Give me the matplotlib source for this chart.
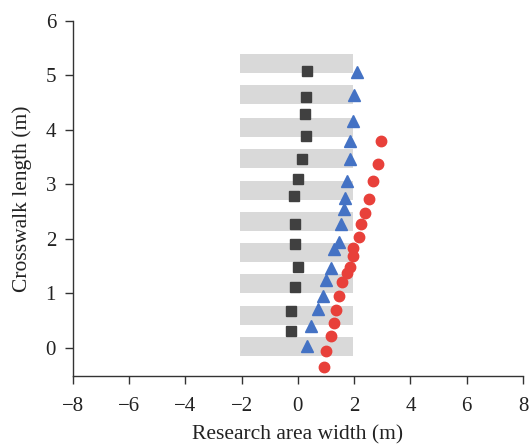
import matplotlib.pyplot as plt

# Crosswalk zebra stripes (bottom edge of each stripe, m)
stripe_bottoms = [-0.15, 0.42, 1.01, 1.58, 2.15, 2.72, 3.30, 3.87, 4.48, 5.05]
stripe_left, stripe_right, stripe_height = -2.05, 1.95, 0.35

# Trajectory points (x = research area width, y = crosswalk length)
sq_x = [0.34, 0.30, 0.27, 0.30, 0.16, 0.02, -0.12, -0.09, -0.09, -0.01, -0.09, -0.23, -0.26]
sq_y = [5.08, 4.60, 4.30, 3.88, 3.46, 3.09, 2.78, 2.27, 1.90, 1.48, 1.11, 0.67, 0.30]

tri_x = [2.10, 2.01, 1.96, 1.87, 1.85, 1.75, 1.67, 1.64, 1.54, 1.45, 1.29, 1.18, 1.01,
         0.90, 0.70, 0.47, 0.33]
tri_y = [5.07, 4.65, 4.16, 3.80, 3.46, 3.07, 2.75, 2.54, 2.27, 1.94, 1.81, 1.46, 1.24,
         0.95, 0.71, 0.40, 0.04]

circ_x = [2.96, 2.85, 2.67, 2.52, 2.40, 2.23, 2.16, 1.96, 1.96, 1.85, 1.74, 1.58, 1.46,
          1.37, 1.29, 1.16, 0.99, 0.93]
circ_y = [3.80, 3.38, 3.06, 2.74, 2.48, 2.28, 2.03, 1.84, 1.68, 1.48, 1.37, 1.21, 0.95,
          0.69, 0.45, 0.21, -0.06, -0.35]

plt.rcParams['font.family'] = ['Liberation Serif', 'DejaVu Serif']

fig = plt.figure(figsize=(5.29, 4.47), dpi=100)
ax = fig.add_axes([0.1374, 0.1588, 0.8513, 0.7942])

for b in stripe_bottoms:
    ax.barh(b, stripe_right - stripe_left, height=stripe_height, left=stripe_left,
            align='edge', color='#d9d9d9', zorder=1)

ax.plot(sq_x, sq_y, 's', color='#404040', markersize=6.5, zorder=3)
ax.plot(tri_x, tri_y, '^', color='#4472c4', markersize=8, zorder=3)
ax.plot(circ_x, circ_y, 'o', color='#e8403a', markersize=7.5, zorder=3)

ax.set_xlim(-8, 8)
ax.set_ylim(-0.52, 6)
ax.set_xticks(range(-8, 9, 2))
ax.set_yticks(range(0, 7))
ax.set_xticklabels(['\u22128', '\u22126', '\u22124', '\u22122', '0', '2', '4', '6', '8'])

for side in ['top', 'right']:
    ax.spines[side].set_visible(False)
for side in ['left', 'bottom']:
    ax.spines[side].set_color('#333333')
    ax.spines[side].set_linewidth(1.0)

ax.tick_params(direction='out', length=6, width=1.0, color='#333333', labelsize=15,
               labelcolor='#222222')
ax.tick_params(axis='x', pad=9)
ax.tick_params(axis='y', pad=6)

ax.set_xlabel('Research area width (m)', fontsize=15.5, color='#222222', labelpad=7)
ax.set_ylabel('Crosswalk length (m)', fontsize=15.5, color='#222222', labelpad=10)

fig.savefig('out.png', dpi=100)
